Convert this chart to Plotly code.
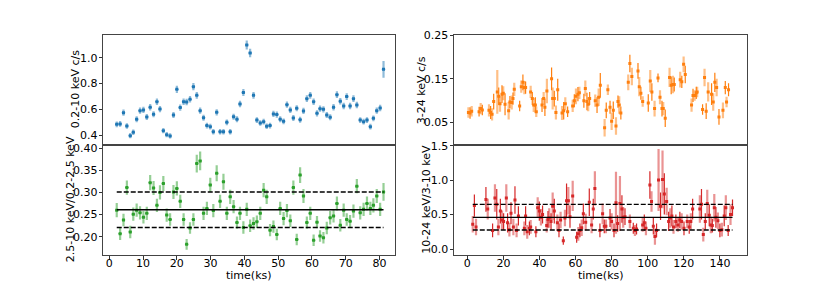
import plotly.graph_objects as go

# ---------------- data ----------------
# left column (0.2-10 keV light curve and hardness ratio)
lt_time = [2.2,3.2,4.2,5.2,6.2,7.1,8.1,9.1,10.1,11.1,
           12.1,13.1,14.1,15.0,16.0,17.0,18.0,19.0,20.0,21.0,
           22.0,22.9,23.9,24.9,25.9,26.9,27.9,28.9,29.9,30.8,
           31.8,32.8,33.8,34.8,35.8,36.8,37.8,38.7,39.7,40.7,
           41.7,42.7,43.7,44.7,45.7,46.6,47.6,48.6,49.6,50.6,
           51.6,52.6,53.6,54.5,55.5,56.5,57.5,58.5,59.5,60.5,
           61.5,62.4,63.4,64.4,65.4,66.4,67.4,68.4,69.4,70.3,
           71.3,72.3,73.3,74.3,75.3,76.3,77.3,78.2,79.2,80.2,
           81.2]
lt_rate = [0.485,0.488,0.575,0.472,0.397,0.423,0.524,0.59,0.596,0.542,
           0.616,0.562,0.66,0.603,0.436,0.405,0.395,0.557,0.755,0.614,
           0.66,0.657,0.678,0.776,0.709,0.59,0.536,0.475,0.467,0.428,
           0.578,0.428,0.428,0.50,0.428,0.544,0.524,0.642,0.73,1.098,
           1.036,0.709,0.518,0.495,0.505,0.47,0.475,0.565,0.56,0.524,
           0.508,0.637,0.596,0.534,0.609,0.521,0.588,0.683,0.709,0.66,
           0.57,0.606,0.601,0.557,0.539,0.616,0.714,0.663,0.627,0.699,
           0.627,0.683,0.634,0.518,0.505,0.518,0.467,0.531,0.59,0.611,
           0.91]
lt_rate_err = [0.022,0.022,0.024,0.022,0.02,0.021,0.023,0.024,0.024,0.023,
               0.025,0.023,0.025,0.024,0.021,0.02,0.02,0.024,0.028,0.025,
               0.025,0.025,0.025,0.028,0.026,0.024,0.023,0.022,0.022,0.021,
               0.024,0.021,0.021,0.022,0.021,0.023,0.023,0.025,0.027,0.035,
               0.032,0.026,0.022,0.022,0.022,0.022,0.022,0.024,0.024,0.023,
               0.022,0.025,0.024,0.023,0.024,0.023,0.024,0.026,0.026,0.025,
               0.024,0.024,0.024,0.023,0.023,0.025,0.026,0.025,0.025,0.026,
               0.025,0.026,0.025,0.022,0.022,0.022,0.022,0.023,0.024,0.025,
               0.065]
lt_hr = [0.26,0.207,0.238,0.311,0.211,0.251,0.26,0.254,0.244,0.253,
         0.322,0.31,0.271,0.30,0.32,0.249,0.239,0.301,0.309,0.28,
         0.239,0.183,0.22,0.239,0.365,0.371,0.253,0.264,0.317,0.259,
         0.343,0.28,0.324,0.253,0.29,0.268,0.232,0.253,0.221,0.262,
         0.225,0.23,0.234,0.253,0.305,0.29,0.215,0.223,0.205,0.264,
         0.241,0.259,0.236,0.311,0.194,0.339,0.292,0.232,0.253,0.192,
         0.233,0.202,0.198,0.22,0.243,0.247,0.275,0.226,0.26,0.239,
         0.235,0.258,0.314,0.254,0.262,0.275,0.264,0.271,0.292,0.262,
         0.301]
lt_hr_err = [0.016,0.014,0.014,0.016,0.014,0.015,0.015,0.015,0.014,0.015,
             0.017,0.016,0.015,0.016,0.017,0.015,0.014,0.016,0.016,0.015,
             0.014,0.012,0.013,0.014,0.02,0.021,0.015,0.015,0.016,0.015,
             0.018,0.015,0.018,0.015,0.016,0.015,0.014,0.015,0.014,0.015,
             0.014,0.014,0.014,0.015,0.016,0.016,0.014,0.014,0.013,0.015,
             0.015,0.015,0.014,0.016,0.013,0.018,0.016,0.014,0.015,0.013,
             0.014,0.013,0.013,0.014,0.015,0.015,0.016,0.014,0.015,0.014,
             0.014,0.015,0.016,0.015,0.015,0.016,0.015,0.016,0.016,0.015,
             0.02]
lt_bin_half = 0.5
lt_hr_mean = 0.261
lt_hr_upper = 0.301
lt_hr_lower = 0.221
lt_line_span = [2.2, 81.2]

# right column (3-24 keV light curve and hardness ratio)
rt_time = [0.6,1.5,2.4,6.5,7.4,8.3,12.0,12.9,13.7,14.6,
           16.6,17.4,18.1,19.2,19.9,20.9,22.9,23.6,24.6,25.3,
           26.0,29.0,29.9,30.8,31.6,32.3,35.1,36.0,36.8,37.7,
           38.2,41.4,42.3,43.0,44.1,46.7,47.3,48.2,49.1,50.1,
           52.5,53.4,54.3,55.6,58.4,59.3,60.2,61.3,62.1,64.6,
           65.4,66.3,67.0,67.8,70.9,71.9,72.8,73.7,76.1,77.0,
           77.9,79.1,80.0,80.9,82.4,83.5,84.2,85.1,89.2,90.1,
           91.2,94.6,95.3,96.2,97.2,100.3,101.4,102.3,103.8,105.7,
           106.8,107.9,108.6,109.7,112.1,113.0,114.0,114.7,118.0,118.9,
           119.9,120.8,124.3,125.1,126.0,126.9,127.4,130.4,131.5,132.4,
           133.5,135.4,136.3,137.2,138.2,139.5,141.7,143.0,143.7,144.8]
rt_rate = [0.073,0.072,0.076,0.075,0.082,0.079,0.078,0.073,0.069,0.098,
           0.12,0.11,0.093,0.115,0.117,0.092,0.077,0.097,0.096,0.105,
           0.126,0.088,0.132,0.142,0.13,0.13,0.12,0.105,0.09,0.09,
           0.075,0.09,0.105,0.085,0.122,0.15,0.105,0.105,0.073,0.125,
           0.072,0.077,0.093,0.075,0.088,0.1,0.11,0.115,0.118,0.1,
           0.128,0.098,0.092,0.105,0.1,0.09,0.108,0.135,0.038,0.078,
           0.125,0.085,0.053,0.078,0.042,0.098,0.09,0.072,0.142,0.185,
           0.155,0.168,0.132,0.117,0.098,0.095,0.145,0.12,0.082,0.152,
           0.108,0.082,0.082,0.06,0.153,0.135,0.137,0.137,0.148,0.143,
           0.183,0.16,0.09,0.112,0.112,0.118,0.12,0.08,0.153,0.076,
           0.12,0.115,0.097,0.142,0.13,0.063,0.078,0.13,0.097,0.125]
rt_rate_err = [0.012,0.013,0.012,0.011,0.013,0.012,0.014,0.015,0.014,0.018,
               0.05,0.02,0.018,0.02,0.016,0.025,0.02,0.014,0.016,0.014,
               0.015,0.012,0.014,0.018,0.015,0.014,0.014,0.015,0.016,0.018,
               0.012,0.016,0.015,0.02,0.028,0.026,0.025,0.018,0.016,0.025,
               0.016,0.02,0.015,0.012,0.014,0.015,0.018,0.016,0.014,0.016,
               0.018,0.02,0.016,0.015,0.014,0.018,0.02,0.028,0.02,0.018,
               0.012,0.015,0.02,0.02,0.02,0.014,0.02,0.015,0.018,0.02,
               0.02,0.018,0.022,0.015,0.012,0.02,0.025,0.02,0.018,0.01,
               0.016,0.018,0.015,0.02,0.022,0.02,0.02,0.016,0.018,0.014,
               0.018,0.02,0.015,0.015,0.012,0.014,0.012,0.012,0.02,0.018,
               0.022,0.025,0.02,0.022,0.02,0.018,0.018,0.015,0.012,0.015]
rb_time = [3.0,3.9,4.8,10.3,11.3,14.0,15.3,16.3,17.2,18.3,
           19.2,20.1,21.6,22.3,23.3,24.2,25.5,26.4,27.3,28.3,
           31.6,32.3,33.2,34.4,35.1,38.0,39.0,39.9,40.8,41.7,
           44.0,44.7,45.4,46.4,47.3,48.2,49.9,50.8,51.7,53.2,
           54.1,55.0,56.0,56.9,58.4,60.6,61.5,62.4,63.4,64.3,
           65.6,67.6,68.9,69.8,70.7,73.5,75.0,75.9,76.8,79.1,
           80.0,81.3,82.4,83.3,84.6,85.7,86.4,87.4,90.1,92.0,
           92.9,93.8,97.2,98.1,99.0,101.2,102.1,103.1,104.0,104.9,
           106.0,107.1,108.2,109.2,110.5,111.6,112.5,113.4,114.3,115.6,
           116.7,117.8,118.8,120.1,121.9,123.0,123.9,124.9,128.9,129.8,
           130.8,131.9,133.0,134.1,135.0,135.8,136.9,137.8,138.9,140.0,
           141.1,142.4,143.3,144.6,145.9,147.0]
rb_hr = [0.36,0.63,0.32,0.72,0.58,0.27,0.74,0.65,0.32,0.55,
         0.42,0.40,0.74,0.38,0.28,0.52,0.32,0.71,0.27,0.48,
         0.30,0.48,0.25,0.30,0.32,0.25,0.60,0.55,0.46,0.50,
         0.34,0.43,0.45,0.40,0.62,0.55,0.38,0.27,0.42,0.12,
         0.45,0.70,0.70,0.47,0.77,0.17,0.22,0.27,0.31,0.51,
         0.39,0.68,0.35,0.58,0.88,0.27,0.51,0.33,0.33,0.45,
         0.40,0.27,0.67,0.37,0.66,0.58,0.46,0.47,0.40,0.30,
         0.27,0.29,0.35,0.38,0.30,0.93,0.69,0.33,0.18,0.27,
         1.00,0.62,1.01,0.80,0.69,0.40,0.45,0.48,0.32,0.40,
         0.35,0.42,0.40,0.30,0.40,0.32,0.40,0.58,0.58,0.65,
         0.21,0.40,0.66,0.49,0.35,0.34,0.60,0.46,0.41,0.27,
         0.28,0.48,0.60,0.27,0.50,0.60]
rb_hr_err = [0.12,0.16,0.12,0.18,0.15,0.1,0.2,0.22,0.12,0.18,
             0.14,0.12,0.2,0.14,0.1,0.16,0.12,0.2,0.1,0.14,
             0.1,0.14,0.1,0.1,0.1,0.08,0.15,0.14,0.12,0.13,
             0.1,0.12,0.14,0.12,0.2,0.18,0.12,0.1,0.12,0.06,
             0.12,0.25,0.2,0.16,0.22,0.08,0.1,0.1,0.12,0.15,
             0.12,0.2,0.12,0.15,0.25,0.1,0.15,0.1,0.1,0.13,
             0.12,0.1,0.45,0.12,0.4,0.2,0.15,0.12,0.1,0.08,
             0.08,0.08,0.1,0.12,0.1,0.2,0.15,0.12,0.12,0.1,
             0.45,0.2,0.42,0.3,0.2,0.14,0.14,0.15,0.1,0.1,
             0.1,0.12,0.12,0.1,0.1,0.1,0.12,0.15,0.2,0.22,
             0.1,0.12,0.2,0.16,0.12,0.1,0.2,0.15,0.12,0.1,
             0.1,0.15,0.18,0.08,0.15,0.12]
rt_bin_half = 0.5
rb_hr_mean = 0.46
rb_hr_upper = 0.648
rb_hr_lower = 0.276
rb_line_span = [3.0, 147.0]

# tick labels
lt_rate_ticks = [0.4, 0.6, 0.8, 1.0]
lt_hr_ticks = [0.20, 0.25, 0.30, 0.35, 0.40]
rt_rate_ticks = [0.05, 0.15, 0.25]
rb_hr_ticks = [0.0, 0.5, 1.0, 1.5]
left_x_ticks = [0, 10, 20, 30, 40, 50, 60, 70, 80]
right_x_ticks = [0, 20, 40, 60, 80, 100, 120, 140]

# ---------------- figure ----------------
W, H = 830, 291
FONT = "DejaVu Sans"
FS = 11


def px_x(p):
    return p / W


def px_y(p):
    return 1 - p / H


LX = [px_x(103.3), px_x(395.0)]
RX = [px_x(454.0), px_x(747.3)]
TY = [px_y(144.5), px_y(35.0)]
BY = [px_y(255.0), px_y(144.5)]


def rgba(hexc, a):
    h = hexc.lstrip('#')
    r, g, b = int(h[0:2], 16), int(h[2:4], 16), int(h[4:6], 16)
    return f"rgba({r},{g},{b},{a})"


fig = go.Figure()


def add_err(x, y, e, half, color, xa, ya, light=True):
    fig.add_trace(go.Scatter(
        x=x, y=y, mode="markers", xaxis=xa, yaxis=ya, showlegend=False,
        marker=dict(color=color, size=3, symbol="square", line=dict(width=0)),
        error_y=dict(type="data", array=e, visible=True, width=0,
                     color=rgba(color, 0.5) if light else color,
                     thickness=2.2 if light else 1.2),
        error_x=dict(type="data", array=[half] * len(x), visible=True, width=0,
                     color=color, thickness=1),
    ))


def add_hline(span, level, dash, xa, ya):
    fig.add_trace(go.Scatter(
        x=span, y=[level, level], mode="lines", xaxis=xa, yaxis=ya,
        showlegend=False, line=dict(color="black", width=1.3, dash=dash)))


BLUE, GREEN, ORANGE, RED = "#1f77b4", "#2ca02c", "#ff7f0e", "#d62728"

# left top
add_err(lt_time, lt_rate, lt_rate_err, lt_bin_half, BLUE, "x", "y")
# left bottom
add_err(lt_time, lt_hr, lt_hr_err, lt_bin_half, GREEN, "x2", "y2")
add_hline(lt_line_span, lt_hr_mean, "solid", "x2", "y2")
add_hline(lt_line_span, lt_hr_upper, "5px,2px", "x2", "y2")
add_hline(lt_line_span, lt_hr_lower, "5px,2px", "x2", "y2")

# right top / bottom: alternate two bar styles
for parity, light in ((0, True), (1, False)):
    idx = [i for i in range(len(rt_time)) if i % 2 == parity]
    add_err([rt_time[i] for i in idx], [rt_rate[i] for i in idx],
            [rt_rate_err[i] for i in idx], rt_bin_half, ORANGE, "x3", "y3", light)
    idx = [i for i in range(len(rb_time)) if i % 2 == parity]
    add_err([rb_time[i] for i in idx], [rb_hr[i] for i in idx],
            [rb_hr_err[i] for i in idx], rt_bin_half, RED, "x4", "y4", light)
add_hline(rb_line_span, rb_hr_mean, "solid", "x4", "y4")
add_hline(rb_line_span, rb_hr_upper, "5px,2px", "x4", "y4")
add_hline(rb_line_span, rb_hr_lower, "5px,2px", "x4", "y4")

frame = dict(showline=True, linecolor="#444", linewidth=1, mirror=True,
             showgrid=False, zeroline=False, ticks="outside", ticklen=3.5,
             tickwidth=1, tickcolor="#333", automargin=False,
             tickfont=dict(family=FONT, size=FS, color="black"))
xframe = {**frame, "ticklabelstandoff": -6}
yframe = {**frame, "ticklabelstandoff": -1}

LXR = [-1.78, 84.6]
RXR = [-7.4, 155.2]

fig.update_layout(
    width=W, height=H, margin=dict(l=0, r=0, t=0, b=0, autoexpand=False),
    paper_bgcolor="white", plot_bgcolor="white",
    font=dict(family=FONT, size=FS, color="black"),
    xaxis=dict(domain=LX, anchor="y", range=LXR, **{**frame, "ticks": ""},
               showticklabels=False),
    yaxis=dict(domain=TY, anchor="x", range=[0.329, 1.175],
               tickvals=lt_rate_ticks, tickformat=".1f", **yframe),
    xaxis2=dict(domain=LX, anchor="y2", range=LXR, tickvals=left_x_ticks, **xframe),
    yaxis2=dict(domain=BY, anchor="x2", range=[0.159, 0.408],
                tickvals=lt_hr_ticks, tickformat=".2f", **yframe),
    xaxis3=dict(domain=RX, anchor="y3", range=RXR, **{**frame, "ticks": ""},
                showticklabels=False),
    yaxis3=dict(domain=TY, anchor="x3", range=[0.0, 0.25],
                tickvals=rt_rate_ticks, tickformat=".2f", **yframe),
    xaxis4=dict(domain=RX, anchor="y4", range=RXR, tickvals=right_x_ticks, **xframe),
    yaxis4=dict(domain=BY, anchor="x4", range=[-0.087, 1.517],
                tickvals=rb_hr_ticks, tickformat=".1f", **yframe),
)

labels = [
    ("0.2-10 keV c/s", 75.5, 89.75, -90),
    ("2.5-10 keV/0.2-2.5 keV", 70.5, 199.75, -90),
    ("3-24 keV c/s", 421.5, 89.75, -90),
    ("10-24 keV/3-10 keV", 427.0, 199.75, -90),
    ("time(ks)", 249.0, 275.5, 0),
    ("time(ks)", 600.5, 275.5, 0),
]
for text, x, y, ang in labels:
    fig.add_annotation(text=text, x=px_x(x), y=px_y(y), xref="paper", yref="paper",
                       showarrow=False, textangle=ang, xanchor="center", yanchor="middle",
                       font=dict(family=FONT, size=FS, color="black"))

fig.write_html("out.html", config={"displayModeBar": False},
               post_script="document.body.style.margin='0px';"
                           "document.body.style.overflow='hidden';")
